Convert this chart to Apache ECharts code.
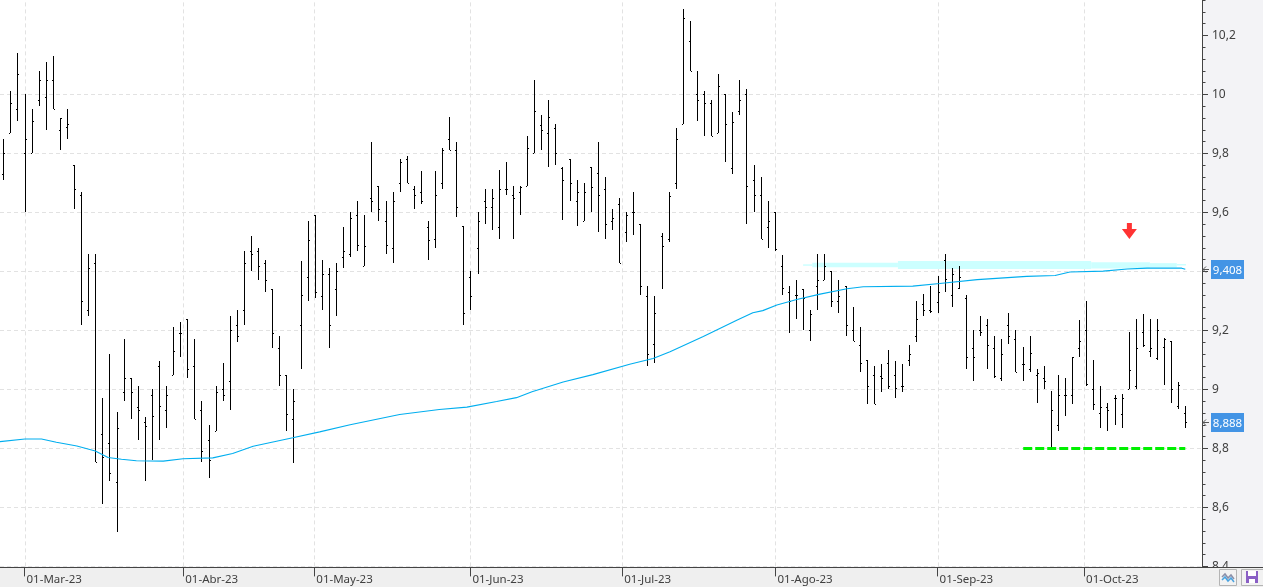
<!DOCTYPE html>
<html>
<head>
<meta charset="utf-8">
<title>OHLC</title>
<style>
  html, body { margin: 0; padding: 0; background: #fff; }
  #chart { width: 1263px; height: 587px; }
</style>
<script src="https://cdn.jsdelivr.net/npm/echarts@6/dist/echarts.min.js"></script>
</head>
<body>
<div id="chart"></div>
<script>
const opens = [9.73,9.87,9.95,9.80,9.80,9.98,9.99,10.05,9.88,9.89,9.76,9.66,9.27,9.43,8.85,8.82,8.685,8.99,9.04,8.94,8.89,8.98,9.08,8.93,9.05,9.19,9.24,9.08,8.93,8.83,8.86,9.00,9.03,9.22,9.27,9.47,9.47,9.43,9.34,9.14,9.05,8.90,9.22,9.38,9.59,
  9.315,9.39,9.34,9.45,9.46,9.59,9.42,9.65,9.69,9.57,9.48,9.70,9.78,9.68,9.67,9.55,9.51,9.70,9.85,9.81,9.555,9.38,9.48,9.64,9.62,9.55,9.68,9.66,9.67,9.69,9.80,9.895,9.87,9.885,9.75,9.78,9.64,9.57,9.755,9.735,9.68,9.57,9.63,9.535,
  9.60,9.56,9.315,9.155,9.52,9.51,9.70,9.90,10.18,10.00,10.00,9.97,9.87,10.00,9.75,9.945,10.00,9.71,9.66,9.55,9.60,9.42,9.33,9.32,9.34,9.20,9.35,9.37,9.40,9.30,9.35,9.20,9.15,9.10,9.05,9.045,9.09,9.05,9.01,9.10,9.18,9.29,9.27,9.295,
  9.44,9.32,9.345,9.31,9.14,9.20,9.22,9.14,9.04,9.22,9.17,9.085,9.07,9.05,9.04,8.80,8.88,8.98,8.98,9.14,9.20,9.00,8.92,8.94,8.97,8.915,9.00,9.01,9.195,9.13,9.105,9.145,9.165,8.945,8.92];
const highs = [9.85,10.01,10.14,10.00,9.95,10.08,10.11,10.13,9.92,9.95,9.76,9.67,9.46,9.46,8.97,9.12,8.925,9.17,9.04,9.01,8.905,9.00,9.095,9.01,9.21,9.23,9.24,9.17,8.96,8.88,9.01,9.09,9.25,9.27,9.47,9.52,9.48,9.44,9.34,9.18,9.05,9.00,9.435,9.57,9.59,
  9.44,9.41,9.43,9.55,9.60,9.64,9.59,9.84,9.69,9.64,9.67,9.78,9.79,9.69,9.74,9.57,9.74,9.82,9.925,9.84,9.555,9.40,9.60,9.68,9.68,9.745,9.77,9.69,9.69,9.86,10.05,9.93,9.98,9.90,9.755,9.78,9.71,9.70,9.755,9.84,9.72,9.61,9.65,9.60,
  9.67,9.56,9.35,9.315,9.53,9.67,9.885,10.29,10.25,10.08,10.01,9.98,10.07,10.00,9.94,10.05,10.02,9.76,9.72,9.64,9.60,9.455,9.35,9.37,9.34,9.27,9.46,9.46,9.40,9.37,9.35,9.28,9.21,9.10,9.08,9.085,9.135,9.095,9.085,9.15,9.30,9.325,9.35,9.385,
  9.46,9.41,9.42,9.32,9.20,9.25,9.24,9.18,9.17,9.26,9.20,9.145,9.18,9.07,9.08,8.995,9.05,9.04,9.11,9.235,9.30,9.10,9.01,8.955,8.98,8.985,9.195,9.24,9.255,9.24,9.24,9.175,9.165,9.025,8.945];
const lows = [9.71,9.87,9.91,9.60,9.80,9.96,9.88,9.95,9.81,9.85,9.61,9.22,9.25,8.755,8.61,8.69,8.515,8.96,8.90,8.83,8.69,8.76,8.83,8.87,9.05,9.11,9.04,8.90,8.755,8.70,8.86,8.96,8.93,9.16,9.22,9.40,9.37,9.33,9.14,9.01,8.86,8.75,9.07,9.30,9.31,
  9.27,9.14,9.25,9.41,9.45,9.47,9.42,9.60,9.57,9.46,9.43,9.67,9.70,9.61,9.63,9.44,9.48,9.68,9.81,9.585,9.22,9.27,9.39,9.56,9.54,9.51,9.66,9.51,9.59,9.69,9.80,9.81,9.755,9.76,9.575,9.64,9.555,9.57,9.60,9.535,9.51,9.54,9.43,9.50,
  9.525,9.32,9.08,9.09,9.34,9.50,9.68,9.90,10.08,9.91,9.86,9.86,9.87,9.77,9.73,9.93,9.56,9.60,9.51,9.48,9.47,9.32,9.19,9.24,9.20,9.165,9.27,9.37,9.28,9.26,9.18,9.165,9.06,8.95,8.95,8.99,9.00,8.97,8.99,9.08,9.16,9.25,9.26,9.26,
  9.33,9.28,9.34,9.07,9.03,9.18,9.07,9.04,9.03,9.155,9.06,9.03,9.06,8.955,9.00,8.795,8.86,8.91,8.95,9.11,9.01,8.93,8.87,8.86,8.88,8.87,9.00,9.00,9.145,9.11,9.10,9.015,8.955,8.935,8.87];
const closes = [9.80,9.97,10.07,9.85,9.91,10.05,10.05,9.95,9.92,9.90,9.68,9.30,9.41,8.755,8.77,8.715,8.87,9.04,8.99,8.93,8.875,8.91,8.945,8.98,9.13,9.19,9.07,8.90,8.79,8.76,8.99,8.98,9.20,9.18,9.43,9.46,9.42,9.37,9.19,9.05,8.915,8.96,9.32,9.505,9.33,
  9.39,9.22,9.40,9.47,9.58,9.49,9.485,9.64,9.61,9.49,9.64,9.77,9.70,9.66,9.64,9.505,9.66,9.81,9.81,9.62,9.26,9.315,9.57,9.62,9.65,9.68,9.68,9.65,9.685,9.82,9.945,9.88,9.925,9.80,9.71,9.70,9.67,9.67,9.685,9.66,9.56,9.58,9.43,9.59,
  9.60,9.35,9.12,9.26,9.485,9.655,9.85,10.26,10.08,9.98,9.97,9.86,10.03,9.90,9.905,9.98,9.69,9.66,9.51,9.57,9.475,9.345,9.30,9.32,9.31,9.255,9.37,9.42,9.30,9.315,9.22,9.165,9.09,9.01,8.95,9.04,9.01,9.005,9.01,9.12,9.24,9.27,9.265,9.33,
  9.375,9.39,9.38,9.11,9.11,9.195,9.15,9.045,9.12,9.18,9.06,9.085,9.125,9.055,9.03,8.93,8.98,8.98,9.11,9.165,9.02,8.95,8.94,8.93,8.97,8.97,9.065,9.14,9.15,9.14,9.20,9.17,9.00,9.015,8.888];

const maIndex = [-0.47,3.07,5.4,7.5,10.4,13,14.8,16.7,18.8,22.6,25.4,29.6,32.4,35.3,40.9,44.7,49,56,61.6,65.5,69.7,72.5,74.7,79.1,83.3,88.5,91.8,94.2,98.9,103.7,105.9,107.3,109.3,112.1,115.4,119.2,121.5,128.5,132.3,137.6,144.6,148.6,150.7,155.4,158.8,161.6,166.5,167];
const maValues = [8.823,8.832,8.832,8.821,8.808,8.791,8.769,8.763,8.758,8.757,8.765,8.768,8.783,8.807,8.836,8.856,8.88,8.915,8.932,8.94,8.959,8.972,8.992,9.025,9.05,9.085,9.105,9.128,9.179,9.235,9.26,9.267,9.286,9.305,9.323,9.341,9.348,9.35,9.359,9.372,9.383,9.386,9.398,9.401,9.408,9.411,9.411,9.407];

const bandStart = [113,114.3,126.4,153.7,162,165.8];
const bandEnd = [114.3,126.4,153.7,162,165.8,167.1];
const bandHigh = [9.424,9.429,9.435,9.431,9.428,9.425];
const bandLow = [9.419,9.414,9.408,9.410,9.414,9.42];

const supportLine = [[144.1, 8.8], [167, 8.8]];
const arrowPoint = [[159.1, 9.537]];
const lastTags = [9.408, 8.888];

const monthIndex = [3,25.43,43.94,66,87.45,109.1,132,152.7];
const monthLabels = ['01-Mar-23','01-Abr-23','01-May-23','01-Jun-23','01-Jul-23','01-Ago-23','01-Sep-23','01-Oct-23'];
const yMajor = [8.4,8.6,8.8,9,9.2,9.4,9.6,9.8,10,10.2];
const yMinor = [8.44,8.48,8.52,8.56,8.64,8.68,8.72,8.76,8.84,8.88,8.92,8.96,9.04,9.08,9.12,9.16,9.24,9.28,9.32,9.36,9.44,9.48,9.52,9.56,9.64,9.68,9.72,9.76,9.84,9.88,9.92,9.96,10.04,10.08,10.12,10.16,10.24,10.28,10.32];

const FONT = '"Noto Sans", sans-serif';
const TEXT = '#404040';
const GRID = '#e2e2e2';
const X_MIN = -0.466;
const X_MAX = 169.36;
const Y_MIN = 8.4;
const Y_MAX = 10.32;

const chart = echarts.init(document.getElementById('chart'), null, { renderer: 'canvas' });

function renderBar(params, api) {
  const i = api.value(0);
  const x = Math.round(api.coord([i, 9])[0]);
  const y = v => api.coord([i, v])[1];
  const black = { fill: '#000' };
  return {
    type: 'group',
    children: [
      { type: 'rect', shape: { x: x, y: Math.round(y(api.value(2))), width: 1, height: Math.max(1, Math.round(y(api.value(3))) - Math.round(y(api.value(2)))) }, style: black },
      { type: 'rect', shape: { x: x - 1, y: Math.round(y(api.value(1))), width: 1, height: 1 }, style: black },
      { type: 'rect', shape: { x: x + 1, y: Math.round(y(api.value(4))), width: 1, height: 1 }, style: black },
    ],
  };
}

function renderBand(params, api) {
  const a = api.coord([api.value(0), api.value(2)]);
  const b = api.coord([api.value(1), api.value(3)]);
  return { type: 'rect', shape: { x: a[0], y: a[1], width: b[0] - a[0], height: b[1] - a[1] }, style: { fill: '#ccffff' } };
}

// vertical gridlines at the month starts, some of them fall between two bars
function renderMonthLine(params, api) {
  const a = api.coord([api.value(0), Y_MIN]);
  const b = api.coord([api.value(0), Y_MAX]);
  const x = Math.round(a[0]) + 0.5;
  return { type: 'line', shape: { x1: x, y1: a[1], x2: x, y2: b[1] }, style: { stroke: GRID, lineWidth: 1, lineDash: [4, 3] } };
}

function renderTag(params, api) {
  const p = api.coord([X_MAX, api.value(0)]);
  const cy = Math.round(p[1]);
  return {
    type: 'group',
    children: [
      { type: 'rect', shape: { x: 1211, y: cy - 9, width: 33, height: 19 }, style: { fill: '#4394e5' } },
      { type: 'text', style: { x: 1227.5, y: cy + 2, text: String(api.value(0)).replace('.', ','), fill: '#fff', font: '11.5px ' + FONT, align: 'center', verticalAlign: 'middle' } },
      { type: 'polyline', shape: { points: [[1209, cy + 0.5], [1203, cy + 0.5]] }, style: { stroke: '#555', fill: null, lineWidth: 1 } },
      { type: 'polyline', shape: { points: [[1206, cy - 2.5], [1203, cy + 0.5], [1206, cy + 3.5]] }, style: { stroke: '#555', fill: null, lineWidth: 1 } },
    ],
  };
}

chart.setOption({
  animation: false,
  backgroundColor: '#f3f3f6',
  textStyle: { fontFamily: FONT },
  grid: { left: 0, top: 0, width: 1202, height: 566.4, show: true, backgroundColor: '#fff', borderWidth: 0 },
  xAxis: {
    type: 'value',
    position: 'bottom',
    min: X_MIN,
    max: X_MAX,
    z: 5,
    offset: 1,
    axisLine: { show: false },
    axisTick: { show: true, length: 9, customValues: monthIndex, lineStyle: { color: '#444' } },
    axisLabel: {
      customValues: monthIndex,
      formatter: v => monthLabels[monthIndex.indexOf(v)] || '',
      color: TEXT,
      fontSize: 11.5,
      fontFamily: FONT,
      align: 'left',
      margin: 6,
      padding: [0, 0, 0, 2],
    },
    splitLine: { show: false },
  },
  yAxis: [
    {
      type: 'value',
      position: 'right',
      min: Y_MIN,
      max: Y_MAX,
      interval: 0.2,
      z: 1,
      axisLine: { show: true, onZero: false, lineStyle: { color: '#444', width: 1 } },
      axisTick: { show: true, length: 6, customValues: yMajor, lineStyle: { color: '#444' } },
      axisLabel: {
        customValues: yMajor,
        formatter: v => String(Math.round(v * 10) / 10).replace('.', ','),
        color: TEXT,
        fontSize: 12,
        fontFamily: FONT,
        margin: 10,
        lineHeight: 16,
        padding: [4, 0, 0, 0],
      },
      splitLine: { show: true, showMaxLine: false, lineStyle: { color: GRID, type: [4, 3] } },
    },
    {
      // short ticks between the labelled ones
      type: 'value',
      position: 'right',
      min: Y_MIN,
      max: Y_MAX,
      z: 1,
      axisLine: { show: false, onZero: false },
      axisTick: { show: true, length: 3.5, customValues: yMinor, lineStyle: { color: '#444' } },
      axisLabel: { show: false },
      splitLine: { show: false },
    },
  ],
  series: [
    {
      name: 'meses',
      type: 'custom',
      z: 1,
      renderItem: renderMonthLine,
      data: monthIndex.map(v => [v]),
      encode: { x: 0 },
    },
    {
      name: 'band',
      type: 'custom',
      z: 2,
      renderItem: renderBand,
      data: bandStart.map((s, i) => [s, bandEnd[i], bandHigh[i], bandLow[i]]),
      encode: { x: [0, 1], y: [2, 3] },
    },
    {
      name: 'ohlc',
      type: 'custom',
      z: 3,
      renderItem: renderBar,
      data: opens.map((o, i) => [i, o, highs[i], lows[i], closes[i]]),
      encode: { x: 0, y: [1, 2, 3, 4] },
    },
    {
      name: 'media',
      type: 'line',
      z: 4,
      symbol: 'none',
      lineStyle: { color: '#00aeef', width: 1.1 },
      data: maIndex.map((x, i) => [x, maValues[i]]),
    },
    {
      name: 'soporte',
      type: 'line',
      z: 4,
      symbol: 'none',
      lineStyle: { color: '#00f000', width: 3, type: [9, 3] },
      data: supportLine,
    },
    {
      name: 'flecha',
      type: 'scatter',
      z: 4,
      symbol: 'path://M5 0 L10 0 L10 6 L15 6 L7.5 16 L0 6 L5 6 Z',
      symbolSize: [15, 16],
      itemStyle: { color: '#ff0000' },
      data: arrowPoint,
    },
    {
      name: 'ultimos',
      type: 'custom',
      z: 4,
      renderItem: renderTag,
      data: lastTags.map(v => [v]),
      encode: { y: 0 },
    },
  ],
  graphic: { elements: [
    { type: 'rect', z: 3, shape: { x: 0, y: 567, width: 1263, height: 20 }, style: { fill: '#efefef' } },
    { type: 'rect', z: 4, shape: { x: 0, y: 567, width: 1263, height: 1 }, style: { fill: '#444' } },
    { type: 'rect', z: 4, shape: { x: 1219.5, y: 569.5, width: 17, height: 16 }, style: { fill: '#f2f2f2', stroke: '#b4b4b4', lineWidth: 1 } },
    { type: 'polyline', z: 4, shape: { points: [[1222, 577], [1225, 574], [1228, 578], [1231, 575], [1234, 579]] }, style: { stroke: '#8a8fa8', fill: null, lineWidth: 1.5 } },
    { type: 'polyline', z: 4, shape: { points: [[1222, 580], [1225, 577], [1228, 581], [1231, 578], [1234, 582]] }, style: { stroke: '#4aa3e0', fill: null, lineWidth: 1.5 } },
    { type: 'rect', z: 4, shape: { x: 1241.5, y: 569.5, width: 22, height: 16 }, style: { fill: '#f2f2f2', stroke: '#b4b4b4', lineWidth: 1 } },
    { type: 'rect', z: 4, shape: { x: 1246, y: 571, width: 12, height: 12 }, style: { fill: '#8a5fc5' } },
    { type: 'rect', z: 4, shape: { x: 1248, y: 571, width: 8, height: 5 }, style: { fill: '#fff' } },
    { type: 'rect', z: 4, shape: { x: 1249, y: 579, width: 6, height: 4 }, style: { fill: '#fff' } },
  ] },
});
window.addEventListener('resize', () => chart.resize());
</script>
</body>
</html>
